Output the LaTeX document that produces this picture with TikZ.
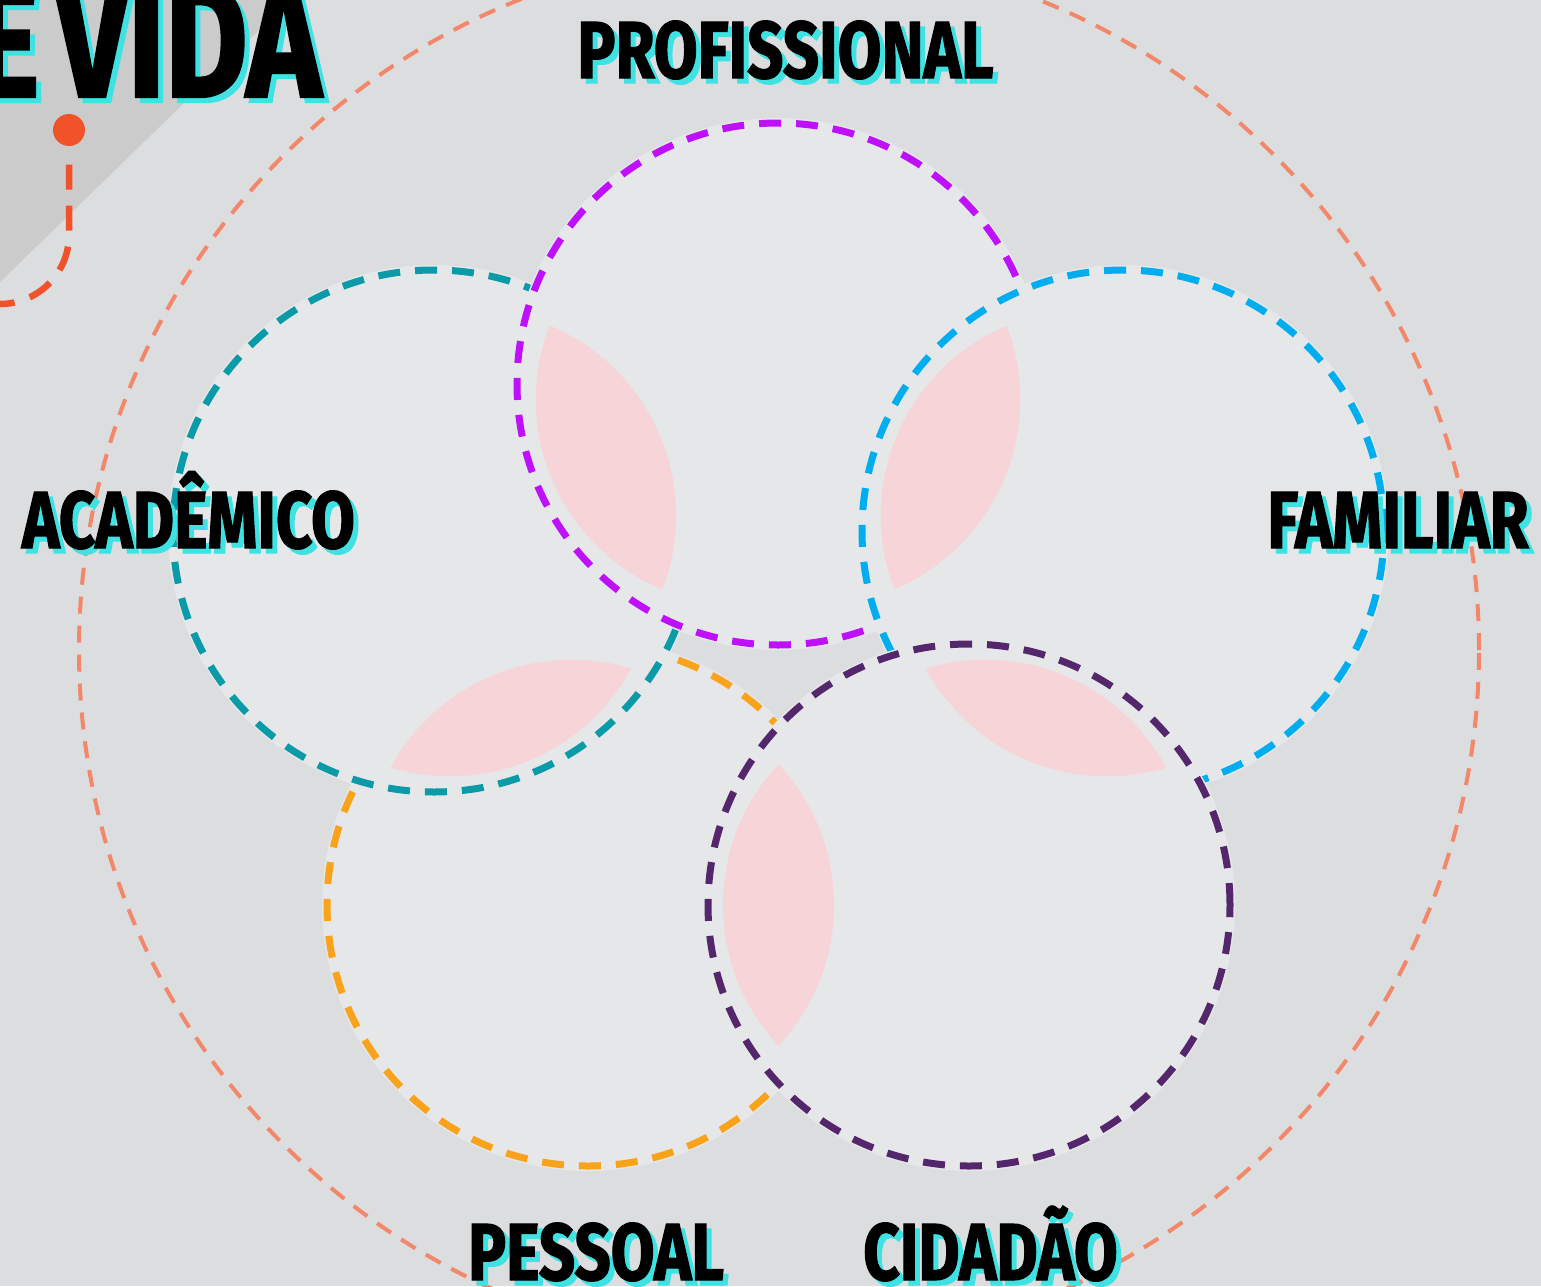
\documentclass[tikz,border=0pt]{standalone}
\usepackage{fontspec}
\usepackage{xcolor}
\usetikzlibrary{calc}
\newfontfamily\labelfont[FakeStretch=0.785,FakeBold=1.5]{Fira Sans}
\definecolor{bggray}{RGB}{220,221,223}
\definecolor{cirfill}{RGB}{230,231,233}
\definecolor{cornergray}{RGB}{203,203,204}
\definecolor{ringsalmon}{RGB}{242,135,106}
\definecolor{profviolet}{RGB}{190,16,250}
\definecolor{acadteal}{RGB}{10,154,168}
\definecolor{famblue}{RGB}{0,174,239}
\definecolor{pessorange}{RGB}{249,162,27}
\definecolor{cidplum}{RGB}{84,38,107}
\definecolor{petalpink}{RGB}{246,212,215}
\definecolor{glowcyan}{RGB}{62,226,226}
\definecolor{dotred}{RGB}{240,83,42}
\newcommand{\glowtext}[1]{\makebox[0pt][l]{\hspace{0.5mm}\raisebox{-0.5mm}{\textcolor{glowcyan}{#1}}}#1}
\newcommand{\tightspace}{\spaceskip 0.1em\relax}

\begin{document}
\begin{tikzpicture}[
    ring/.style={line width=0.4mm, dash pattern=on 1.7mm off 1.2mm, draw=ringsalmon},
    venn/.style={line width=0.7mm, dash pattern=on 2.2mm off 1.5mm},
    petal/.style={fill=petalpink},
    area/.style={text=black, inner sep=0pt, anchor=base, font=\labelfont\bfseries\fontsize{23}{23}\selectfont},
    title/.style={inner sep=0pt, anchor=base east, font=\labelfont\bfseries\fontsize{46}{46}\selectfont\tightspace},
    reddot/.style={circle, fill=dotred, inner sep=0pt, minimum size=3.2mm},
    trail/.style={line width=0.65mm, dash pattern=on 2.5mm off 1.6mm, draw=dotred}
]
    % Background
    \fill[bggray] (0,0) rectangle (15.41,12.86);
    \useasboundingbox (0,0) rectangle (15.41,12.86);
    \clip (0,0) rectangle (15.41,12.86);
    \fill[cornergray] (0,12.86) -- (2.9,12.86) -- (0,10.04) -- cycle;

    % Outer ring
    \coordinate (mid) at (7.79,6.36);
    \draw[ring] (mid) circle (7.0);

    % Circle centres
    \coordinate (prof) at (7.78,9.02);
    \coordinate (acad) at (4.34,7.55);
    \coordinate (fam) at (11.23,7.55);
    \coordinate (pess) at (5.88,3.81);
    \coordinate (cid) at (9.69,3.81);

    % Circles
    \fill[cirfill] (pess) circle (2.66);
    \draw[venn, pessorange] (pess) circle (2.61);
    \fill[cirfill] (acad) circle (2.66);
    \draw[venn, acadteal] (acad) circle (2.61);
    \fill[cirfill] (prof) circle (2.66);
    \draw[venn, profviolet] (prof) circle (2.61);
    \fill[cirfill] (fam) circle (2.66);
    \draw[venn, famblue] (fam) circle (2.61);
    \fill[cirfill] (cid) circle (2.66);
    \draw[venn, cidplum] (cid) circle (2.61);

    % Petals
    \coordinate (m1) at ($(prof)!0.5!(acad)$);
    \coordinate (m2) at ($(prof)!0.5!(fam)$);
    \coordinate (m3) at ($(acad)!0.5!(pess)$);
    \coordinate (m4) at ($(fam)!0.5!(cid)$);
    \coordinate (m5) at ($(pess)!0.5!(cid)$);
    \begin{scope}
        \clip ($(m1)!0.79!(prof)$) circle (2.06);
        \fill[petal] ($(m1)!0.79!(acad)$) circle (2.06);
    \end{scope}
    \begin{scope}
        \clip ($(m2)!0.79!(prof)$) circle (2.06);
        \fill[petal] ($(m2)!0.79!(fam)$) circle (2.06);
    \end{scope}
    \begin{scope}
        \clip ($(m3)!0.79!(acad)$) circle (2.06);
        \fill[petal] ($(m3)!0.79!(pess)$) circle (2.06);
    \end{scope}
    \begin{scope}
        \clip ($(m4)!0.79!(fam)$) circle (2.06);
        \fill[petal] ($(m4)!0.79!(cid)$) circle (2.06);
    \end{scope}
    \begin{scope}
        \clip ($(m5)!0.79!(pess)$) circle (2.06);
        \fill[petal] ($(m5)!0.79!(cid)$) circle (2.06);
    \end{scope}

    % Labels
    \node[area] (lprof) at (7.855,12.08) {\glowtext{PROFISSIONAL}};
    \node[area] (lacad) at (1.885,7.38) {\glowtext{ACADÊMICO}};
    \node[area] (lfam) at (13.98,7.38) {\glowtext{FAMILIAR}};
    \node[area] (lpess) at (5.96,0.06) {\glowtext{PESSOAL}};
    \node[area] (lcid) at (9.905,0.06) {\glowtext{CIDADÃO}};

    % Title corner
    \node[title] (vida) at (3.22,11.89) {\glowtext{E VIDA}};
    \node[reddot] (dot) at (0.69,11.56) {};
    \coordinate (trailend) at (0,9.82);
    \draw[trail] ([yshift=-1.8mm]dot.south) -- (0.69,10.51) arc[start angle=0, end angle=-90, radius=0.69] -- (trailend);
\end{tikzpicture}
\end{document}
